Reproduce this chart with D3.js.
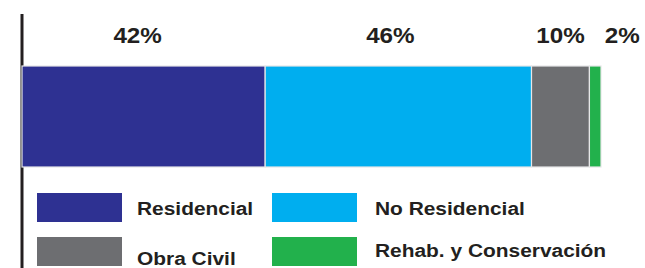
<!DOCTYPE html>
<html lang="es">
	<head>
		<meta charset="utf-8">
		<title>Distribución por tipo de obra</title>
		<script type="text/javascript" src="https://cdn.jsdelivr.net/npm/d3@7"></script>
		<style type="text/css">
			html, body { margin: 0; padding: 0; background: #fff; }
			svg { display: block; }
			text { font-family: "Liberation Sans", Arial, sans-serif; font-weight: bold; fill: #231f20; }
		</style>
	</head>
	<body>
		<script type="text/javascript">

			//Data
			var categories = ["Residencial", "No Residencial", "Obra Civil", "Rehab. y Conservación"];
			var shares = [42, 46, 10, 2];
			var colors = ["#2e3192", "#00aeef", "#6d6e71", "#22b14c"];

			//Width and height
			var w = 645;
			var h = 268;
			var stretch = 1.1; //the original type is a bit wider than Liberation Sans

			var svg = d3.select("body")
						.append("svg")
						.attr("width", w)
						.attr("height", h);

			//cumulative start of each segment
			var starts = [];
			var acc = 0;
			shares.forEach(function(d) { starts.push(acc); acc += d; });

			var xScale = d3.scaleLinear()
						   .domain([0, d3.sum(shares)])
						   .range([22, 601]);

			var barTop = 66, barBottom = 167;

			//vertical axis line
			svg.append("line")
			   .attr("x1", 22).attr("x2", 22)
			   .attr("y1", 14).attr("y2", h)
			   .attr("stroke", "#231f20")
			   .attr("stroke-width", 3);

			svg.selectAll("rect.seg")
			   .data(shares)
			   .enter()
			   .append("rect")
			   .attr("class", "seg")
			   .attr("x", function(d, i) { return xScale(starts[i]); })
			   .attr("y", barTop)
			   .attr("width", function(d) { return xScale(d) - xScale(0); })
			   .attr("height", barBottom - barTop)
			   .attr("fill", function(d, i) { return colors[i]; })
			   .attr("stroke", "#e6e7e8")
			   .attr("stroke-width", 1.2);

			//value labels, centred on the segment, pushed right if they would collide
			var lastEnd = -Infinity;
			var labelX = shares.map(function(d, i) {
				var cx = xScale(starts[i] + d / 2);
				var half = (String(d).length * 12.5 + 20) / 2;
				if (cx - half < lastEnd + 23) cx = lastEnd + 23 + half;
				lastEnd = cx + half;
				return cx;
			});

			svg.selectAll("text.val")
			   .data(shares)
			   .enter()
			   .append("text")
			   .attr("class", "val")
			   .attr("transform", function(d, i) {
			   		var x = labelX[i] - (i === 0 ? 6 : i === 1 ? 8 : 0);
			   		return "translate(" + x + ",43) scale(" + stretch + ",1)";
			   })
			   .attr("text-anchor", "middle")
			   .attr("font-size", "22px")
			   .text(function(d) { return d + "%"; });

			//legend, two columns
			var legX = [37, 272], swW = 85, swH = 29;
			var legY = [193, 237];
			var legend = svg.selectAll("g.leg")
			   .data(categories)
			   .enter()
			   .append("g")
			   .attr("class", "leg")
			   .attr("transform", function(d, i) {
			   		return "translate(" + legX[i % 2] + "," + legY[Math.floor(i / 2)] + ")";
			   });

			legend.append("rect")
			   .attr("width", swW)
			   .attr("height", swH)
			   .attr("fill", function(d, i) { return colors[i]; });

			legend.append("text")
			   .attr("transform", function(d, i) {
			   		var tx = i % 2 ? 103 : 100;
			   		var ty = i === 2 ? 28 : i === 3 ? 20 : 22;
			   		return "translate(" + tx + "," + ty + ") scale(" + stretch + ",1)";
			   })
			   .attr("font-size", "19px")
			   .text(function(d) { return d; });

		</script>
	</body>
</html>
